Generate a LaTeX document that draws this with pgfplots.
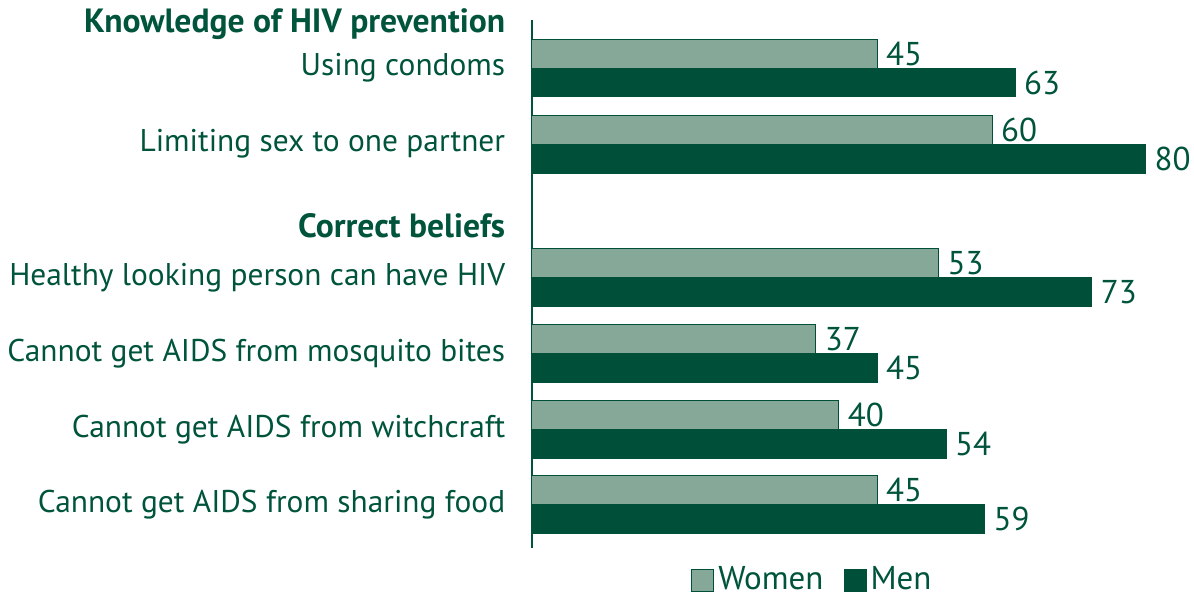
\documentclass[border=0pt]{standalone}
\usepackage{pgfplots}
\pgfplotsset{compat=1.18}
\usepackage{fontspec}
\setmainfont{PT Sans}
\definecolor{dkgreen}{HTML}{004F39}
\definecolor{ltgreen}{HTML}{85A898}
\definecolor{txtgreen}{HTML}{00543C}
\newcommand{\hdr}[1]{{\fontsize{16.8pt}{18pt}\selectfont\bfseries #1}}
\begin{document}
\fontsize{15.7pt}{18pt}\selectfont
\begin{tikzpicture}
\begin{axis}[
  at={(0,0)}, anchor=north west,
  scale only axis,
  width=331pt, height=264pt,
  xmin=0, xmax=86.3,
  ymin=0.37, ymax=7.3,
  y dir=reverse,
  xbar, bar width=0.38,
  axis x line=none,
  axis y line*=left,
  y axis line style={draw=txtgreen, line width=0.6pt},
  ytick={0.42,1,2,3.07,3.75,4.75,5.75,6.73},
  yticklabels={\hdr{Knowledge of HIV prevention},Using condoms,Limiting sex to one partner,\hdr{Correct beliefs},Healthy looking person can have HIV,Cannot get AIDS from mosquito bites,Cannot get AIDS from witchcraft,Cannot get AIDS from sharing food},
  major tick length=0pt,
  yticklabel style={font=\fontsize{15.7pt}{18pt}\selectfont, text=txtgreen, xshift=-8pt},
  /pgf/number format/assume math mode=true,
  nodes near coords,
  nodes near coords style={font=\fontsize{16.5pt}{18pt}\selectfont, text=txtgreen, anchor=west, xshift=-1pt},
  clip=false,
  legend style={at={(0.425,-0.062)}, anchor=center, draw=none, inner sep=1pt, legend columns=2, font=\fontsize{16.5pt}{18pt}\selectfont, text=txtgreen, /tikz/every even column/.append style={column sep=8pt}},
  legend image code/.code={\draw[#1, draw=dkgreen] (0pt,-5.5pt) rectangle (11pt,5.5pt);},
]
\addplot[fill=ltgreen, draw=dkgreen, line width=0.5pt, bar shift=-0.19] coordinates {(45,1) (60,2) (53,3.75) (37,4.75) (40,5.75) (45,6.73)};
\addplot[fill=dkgreen, draw=dkgreen, line width=0.5pt, bar shift=0.19] coordinates {(63,1) (80,2) (73,3.75) (45,4.75) (54,5.75) (59,6.73)};
\legend{Women,Men}
\end{axis}
\pgfresetboundingbox
\useasboundingbox (-266pt,10pt) rectangle (331pt,-290pt);
\end{tikzpicture}
\end{document}
